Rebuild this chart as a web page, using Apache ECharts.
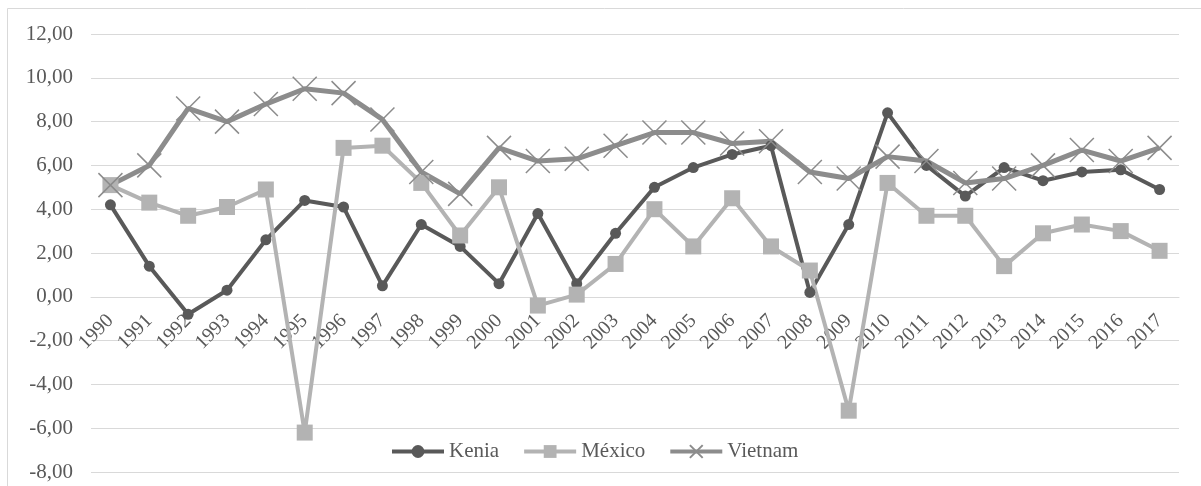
<!DOCTYPE html>
<html>
<head>
<meta charset="utf-8">
<script src="https://cdn.jsdelivr.net/npm/echarts@6/dist/echarts.min.js"></script>
<style>
html,body{margin:0;padding:0;background:#fff;}
#chart{width:1201px;height:486px;}
</style>
</head>
<body>
<div id="chart"></div>
<script>
const years = ['1990','1991','1992','1993','1994','1995','1996','1997','1998','1999','2000','2001','2002','2003','2004','2005','2006','2007','2008','2009','2010','2011','2012','2013','2014','2015','2016','2017'];
const kenia = [4.2, 1.4, -0.8, 0.3, 2.6, 4.4, 4.1, 0.5, 3.3, 2.3, 0.6, 3.8, 0.6, 2.9, 5.0, 5.9, 6.5, 6.9, 0.2, 3.3, 8.4, 6.0, 4.6, 5.9, 5.3, 5.7, 5.8, 4.9];
const mexico = [5.1, 4.3, 3.7, 4.1, 4.9, -6.2, 6.8, 6.9, 5.2, 2.8, 5.0, -0.4, 0.1, 1.5, 4.0, 2.3, 4.5, 2.3, 1.2, -5.2, 5.2, 3.7, 3.7, 1.4, 2.9, 3.3, 3.0, 2.1];
const vietnam = [5.1, 6.0, 8.6, 8.0, 8.8, 9.5, 9.3, 8.1, 5.7, 4.7, 6.8, 6.2, 6.3, 6.9, 7.5, 7.5, 7.0, 7.1, 5.7, 5.4, 6.4, 6.2, 5.2, 5.4, 6.0, 6.7, 6.2, 6.8];
const seriesNames = ['Kenia', 'México', 'Vietnam'];
const yMin = -8, yMax = 12, yStep = 2;

const FONT = '"Liberation Serif", "Times New Roman", serif';
const TXT = '#595959';
const GRID = '#d9d9d9';
const C_KEN = '#595959';
const C_MEX = '#b3b3b3';
const C_VIE = '#8c8c8c';

const H = 486, gridTop = 34, gridBottom = 14;
const plotH = H - gridTop - gridBottom;
// move the category axis up to the value 0 line
const zeroOffset = -(0 - yMin) / (yMax - yMin) * plotH;

const chart = echarts.init(document.getElementById('chart'));
chart.setOption({
  animation: false,
  backgroundColor: '#fff',
  textStyle: { fontFamily: FONT },
  graphic: [{
    type: 'rect', silent: true, z: -10,
    shape: { x: 7.5, y: 8.5, width: 1300, height: 600 },
    style: { fill: 'none', stroke: GRID, lineWidth: 1 }
  }],
  grid: { left: 91, right: 22, top: gridTop, bottom: gridBottom, containLabel: false, outerBoundsMode: 'none' },
  legend: {
    left: 385, top: 436,
    itemWidth: 52, itemHeight: 16, itemGap: 23,
    lineStyle: { width: 4 },
    textStyle: { fontFamily: FONT, fontSize: 21, color: TXT },
    data: seriesNames
  },
  xAxis: {
    type: 'category',
    data: years,
    boundaryGap: true,
    offset: zeroOffset,
    axisLine: { show: true, onZero: false, lineStyle: { color: GRID, width: 1 } },
    axisTick: { show: false },
    axisLabel: { interval: 0, rotate: 45, fontFamily: FONT, fontSize: 20, color: TXT, margin: 21 }
  },
  yAxis: {
    type: 'value', min: yMin, max: yMax, interval: yStep,
    axisLine: { show: false }, axisTick: { show: false },
    splitLine: { lineStyle: { color: GRID, width: 1.2 } },
    axisLabel: {
      fontFamily: FONT, fontSize: 21, color: TXT, margin: 18,
      formatter: v => v.toFixed(2).replace('.', ',')
    }
  },
  series: [
    {
      name: seriesNames[0], type: 'line', data: kenia,
      symbol: 'circle', symbolSize: 11, showAllSymbol: true,
      lineStyle: { color: C_KEN, width: 4 },
      itemStyle: { color: C_KEN }
    },
    {
      name: seriesNames[1], type: 'line', data: mexico,
      symbol: 'rect', symbolSize: 16, showAllSymbol: true,
      lineStyle: { color: C_MEX, width: 4 },
      itemStyle: { color: C_MEX }
    },
    {
      name: seriesNames[2], type: 'line', data: vietnam,
      symbol: 'path://M0,0L10,10M10,0L0,10', symbolSize: 24, showAllSymbol: true,
      lineStyle: { color: C_VIE, width: 5 },
      itemStyle: { color: 'none', borderColor: C_VIE, borderWidth: 1.5 }
    }
  ]
});
</script>
</body>
</html>
